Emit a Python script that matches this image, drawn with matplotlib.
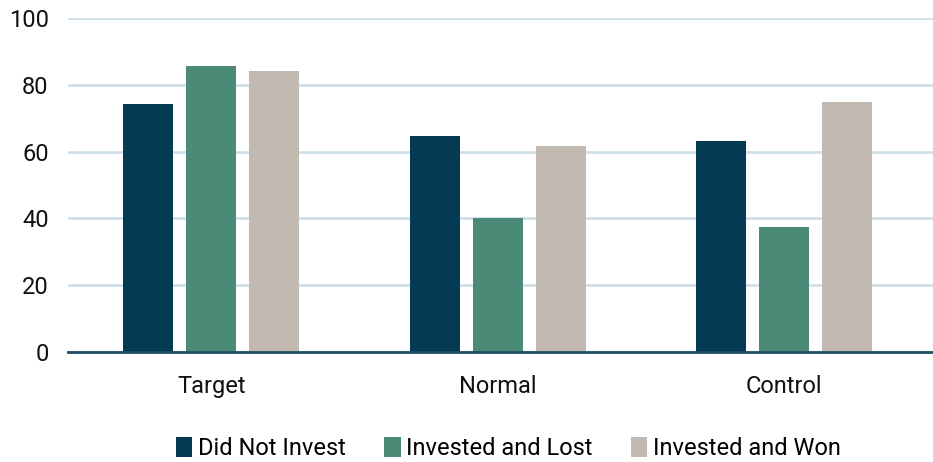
import numpy as np
import matplotlib.pyplot as plt

plt.rcParams['font.family'] = ['Roboto', 'DejaVu Sans']

categories = ['Target', 'Normal', 'Control']
series_names = ['Did Not Invest', 'Invested and Lost', 'Invested and Won']
did_not_invest = [74.3, 64.7, 63.2]
invested_lost = [85.6, 40.2, 37.4]
invested_won = [84.2, 61.8, 75.0]
colors = ['#053A55', '#4A8A77', '#C2B9B0']

fig = plt.figure(figsize=(9.33, 4.62), dpi=100)
ax = fig.add_axes([0.073, 0.239, 0.927, 0.721])

x = np.arange(len(categories))
width = 0.175
step = 0.22
for i, (vals, name) in enumerate(zip([did_not_invest, invested_lost, invested_won], series_names)):
    ax.bar(x + (i - 1) * step, vals, width, color=colors[i], label=name, zorder=3)

ax.set_ylim(0, 100)
ax.set_xlim(-0.5, 2.52)
ax.set_yticks(range(0, 101, 20))
ax.set_xticks(x)
ax.set_xticklabels(categories)
ax.yaxis.grid(True, color='#CFE0EA', linewidth=2, zorder=0)
ax.set_axisbelow(True)
for side in ['top', 'right', 'left']:
    ax.spines[side].set_visible(False)
ax.spines['bottom'].set_color('#1F4E66')
ax.spines['bottom'].set_linewidth(2)
ax.spines['bottom'].set_zorder(4)
ax.tick_params(axis='both', length=0, labelsize=17, colors='#111111')
ax.tick_params(axis='y', pad=14)
ax.tick_params(axis='x', pad=17)

fig.legend(loc='lower center', bbox_to_anchor=(0.545, -0.042), ncol=3, frameon=False,
           fontsize=17, handlelength=0.7, handleheight=0.9, handletextpad=0.25,
           columnspacing=1.6)

fig.savefig('out.png', dpi=100)
